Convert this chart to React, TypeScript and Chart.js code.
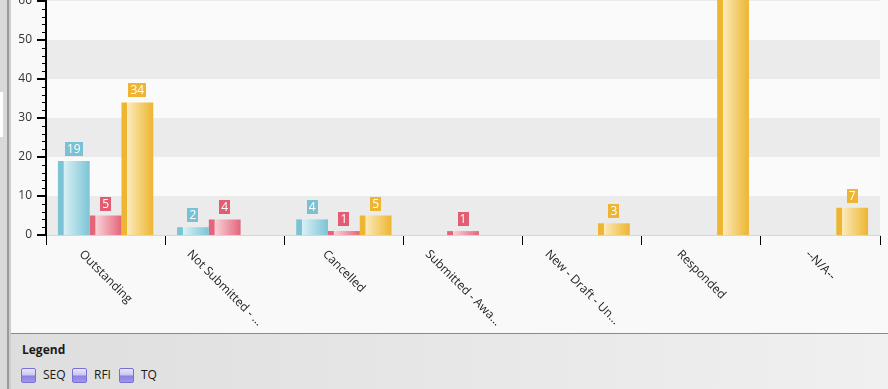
import React, { useEffect, useRef } from "react";
import { Chart, registerables } from "chart.js";

Chart.register(...registerables);

// ---- data ----
const categories = [
  "Outstanding",
  "Not Submitted - ...",
  "Cancelled",
  "Submitted - Awa...",
  "New - Draft - Un...",
  "Responded",
  "--N/A--",
];
const seriesNames = ["SEQ", "RFI", "TQ"];
const seqValues = [19, 2, 4, 0, 0, 0, 0];
const rfiValues = [5, 4, 1, 1, 0, 0, 0];
const tqValues = [34, 0, 5, 0, 3, 72, 7];
const yMin = 0;
const yMax = 70;
const yMajorStep = 10;
const yMinorStep = 2;

const FONT = "'Open Sans', 'Noto Sans', sans-serif";

const palette = [
  { dark: "#7cc4d5", light: "#d8f0f5", label: "#78c2d4" },
  { dark: "#e4657a", light: "#f9d2d9", label: "#e35d72" },
  { dark: "#edb531", light: "#fbeab9", label: "#edb532" },
];

const customPlugin = {
  id: "customLook",
  beforeDraw(chart: any) {
    const { ctx, chartArea: a, scales } = chart;
    const y = scales.y;
    ctx.save();
    ctx.fillStyle = "#fafafa";
    ctx.fillRect(a.left, a.top, a.right - a.left, a.bottom - a.top);
    ctx.fillStyle = "#ebebeb";
    for (let v = yMin; v < yMax; v += 2 * yMajorStep) {
      const y1 = y.getPixelForValue(v);
      const y2 = y.getPixelForValue(Math.min(v + yMajorStep, yMax));
      ctx.fillRect(a.left, y2, a.right - a.left, y1 - y2);
    }
    ctx.restore();
  },
  beforeDatasetsDraw(chart: any) {
    chart.data.datasets.forEach((ds: any, di: number) => {
      const meta = chart.getDatasetMeta(di);
      const p = palette[di];
      meta.data.forEach((el: any) => {
        const { x, width } = el.getProps(["x", "width"], true);
        const l = x - width / 2;
        const r = x + width / 2;
        const g = chart.ctx.createLinearGradient(l, 0, r, 0);
        g.addColorStop(0, p.dark);
        g.addColorStop(0.17, p.dark);
        g.addColorStop(0.19, p.light);
        g.addColorStop(1, p.dark);
        el.options = Object.assign({}, el.options, { backgroundColor: g });
      });
    });
  },
  afterDatasetsDraw(chart: any) {
    const ctx = chart.ctx;
    const a = chart.chartArea;
    ctx.save();
    ctx.font = `12px ${FONT}`;
    ctx.textAlign = "center";
    ctx.textBaseline = "middle";
    chart.data.datasets.forEach((ds: any, di: number) => {
      const meta = chart.getDatasetMeta(di);
      meta.data.forEach((el: any, i: number) => {
        const v = ds.data[i];
        if (!v) return;
        const { x, y } = el.getProps(["x", "y"], true);
        if (y < a.top + 20) return;
        const text = String(v);
        const w = Math.round(ctx.measureText(text).width + 4);
        const h = 14;
        const bottom = Math.round(y - 5);
        ctx.fillStyle = palette[di].label;
        ctx.fillRect(Math.round(x - w / 2), bottom - h, w, h);
        ctx.fillStyle = "#ffffff";
        ctx.fillText(text, x, bottom - h / 2 + 0.5);
      });
    });
    ctx.restore();
  },
  afterDraw(chart: any) {
    const { ctx, chartArea: a, scales } = chart;
    const x = scales.x;
    const y = scales.y;
    ctx.save();
    ctx.strokeStyle = "#000";
    for (let v = yMin; v <= yMax; v += yMinorStep) {
      const py = y.getPixelForValue(v);
      const major = v % yMajorStep === 0;
      ctx.lineWidth = major ? 2 : 1;
      const yy = major ? Math.round(py) : Math.round(py) + 0.5;
      ctx.beginPath();
      ctx.moveTo(a.left - (major ? 9 : 4), yy);
      ctx.lineTo(a.left, yy);
      ctx.stroke();
    }
    ctx.font = `12px ${FONT}`;
    ctx.fillStyle = "#222";
    ctx.textAlign = "center";
    ctx.textBaseline = "middle";
    const top = a.bottom + 13;
    categories.forEach((c, i) => {
      const cx = x.getPixelForValue(i);
      const L = ctx.measureText(c).width;
      const cy = top + ((L + 12) * Math.SQRT1_2) / 2;
      ctx.save();
      ctx.translate(cx, cy);
      ctx.rotate(Math.PI / 4);
      ctx.fillText(c, 0, 0);
      ctx.restore();
    });
    ctx.restore();
  },
};

function LegendItem({ left, label }: { left: number; label: string }) {
  return (
    <div style={{ position: "absolute", left, top: 33, height: 16, display: "flex", alignItems: "center" }}>
      <div
        style={{
          width: 13,
          height: 13,
          border: "1px solid #7a6fd8",
          borderRadius: 2,
          background: "linear-gradient(#e9e7fb 0%, #c9c4f2 48%, #8a82e2 52%, #9f98e8 100%)",
        }}
      />
      <span style={{ marginLeft: 7, fontSize: 12, color: "#1a1a1a", lineHeight: "16px" }}>{label}</span>
    </div>
  );
}

export default function App() {
  const canvasRef = useRef<HTMLCanvasElement | null>(null);

  useEffect(() => {
    if (!canvasRef.current) return;
    const chart = new Chart(canvasRef.current, {
      type: "bar",
      data: {
        labels: categories,
        datasets: [seqValues, rfiValues, tqValues].map((d, i) => ({
          label: seriesNames[i],
          data: d,
          backgroundColor: palette[i].dark,
          borderWidth: 0,
          categoryPercentage: 0.8,
          barPercentage: 1.0,
        })),
      },
      options: {
        responsive: false,
        animation: false,
        devicePixelRatio: 1,
        layout: { padding: { top: 2, right: 8, left: 0, bottom: 0 } },
        plugins: { legend: { display: false }, tooltip: { enabled: false } },
        scales: {
          x: {
            grid: {
              display: true,
              drawOnChartArea: false,
              drawTicks: true,
              tickLength: 10,
              color: "#000",
              lineWidth: 1,
              offset: true,
            },
            border: { display: true, color: "#d6d6d6", width: 1 },
            ticks: { display: false },
            afterFit: (s: any) => {
              s.height = 98;
              s.paddingLeft = 0;
              s.paddingRight = 0;
            },
          },
          y: {
            min: yMin,
            max: yMax,
            grid: { display: false, drawTicks: false },
            border: { display: true, color: "#000", width: 2 },
            ticks: {
              stepSize: yMajorStep,
              padding: 14,
              color: "#333",
              font: { family: FONT, size: 12 },
            },
            afterFit: (s: any) => {
              s.width = 46;
              s.paddingTop = 0;
              s.paddingBottom = 0;
            },
          },
        },
      },
      plugins: [customPlugin],
    });
    return () => chart.destroy();
  }, []);

  return (
    <div
      style={{
        position: "fixed",
        left: 0,
        top: 0,
        width: 888,
        height: 389,
        overflow: "hidden",
        background: "#f9f9f9",
        fontFamily: FONT,
      }}
    >
      <canvas ref={canvasRef} width={888} height={373} style={{ position: "absolute", left: 0, top: -40 }} />
      <div style={{ position: "absolute", left: 0, top: 0, width: 7, height: 389, background: "#d9d9d9" }} />
      <div style={{ position: "absolute", left: 0, top: 92, width: 3, height: 45, background: "#ffffff" }} />
      <div style={{ position: "absolute", left: 7, top: 0, width: 2, height: 389, background: "#9a9a9a" }} />
      <div style={{ position: "absolute", left: 9, top: 0, width: 2, height: 389, background: "#cdcdcd" }} />
      <div
        style={{
          position: "absolute",
          left: 11,
          top: 333,
          width: 877,
          height: 56,
          borderTop: "1px solid #8a8a8a",
          background: "linear-gradient(90deg, #dedede, #f0f0f0)",
        }}
      >
        <div style={{ position: "absolute", left: 11, top: 8, fontSize: 12, fontWeight: "bold", color: "#1a1a1a", lineHeight: "16px" }}>
          Legend
        </div>
        <LegendItem left={10} label={seriesNames[0]} />
        <LegendItem left={61} label={seriesNames[1]} />
        <LegendItem left={108} label={seriesNames[2]} />
      </div>
    </div>
  );
}
